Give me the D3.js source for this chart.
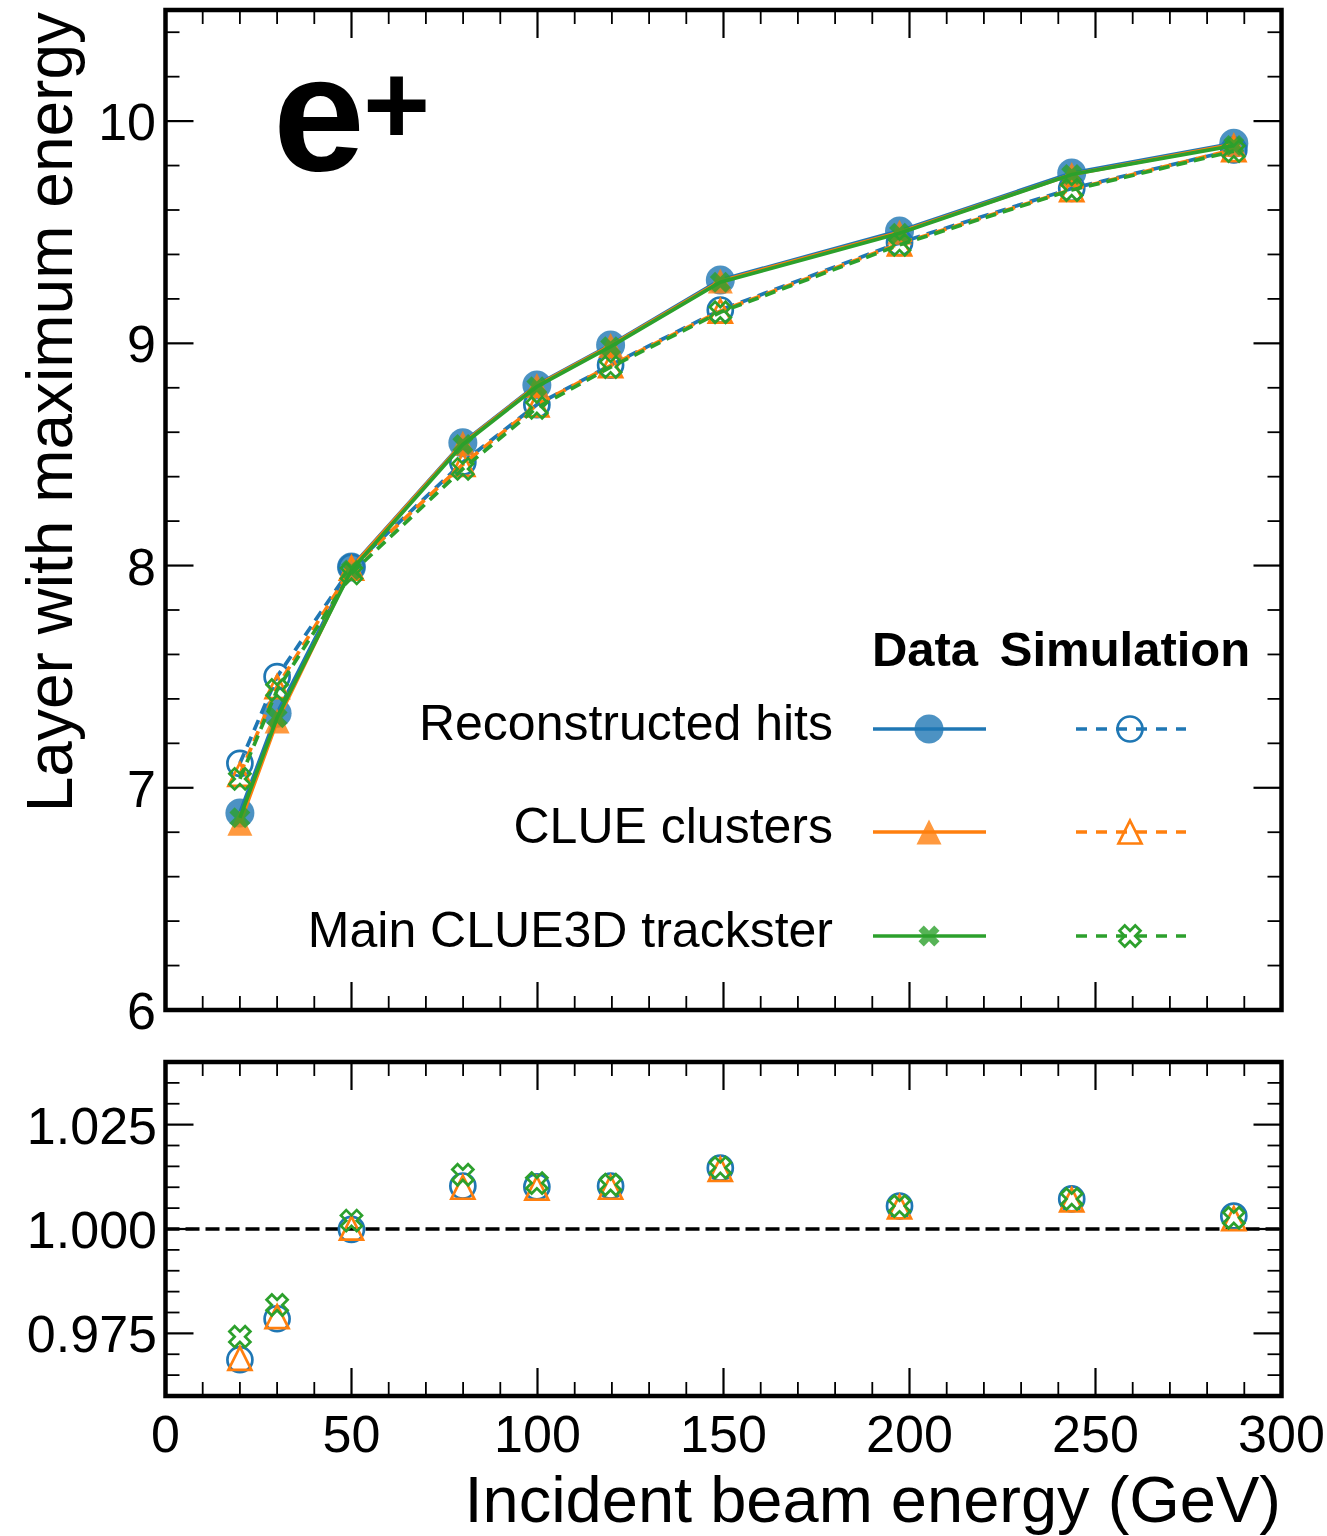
<!DOCTYPE html>
<html><head><meta charset="utf-8">
<script src="https://cdn.jsdelivr.net/npm/d3@7"></script>
<style>
body{margin:0;background:#fff}
svg{display:block}
text{font-family:"Liberation Sans",Arial,Helvetica,sans-serif;fill:#000}
</style>
</head><body>
<svg id="c" width="1327" height="1536"></svg>
<script>
// ---------------- data ----------------
const energies = [20, 30, 49.99, 79.93, 99.83, 119.65, 149.14, 197.32, 243.61, 287.18];

const dataHits      = [6.887, 7.335, 7.993, 8.553, 8.813, 8.993, 9.285, 9.506, 9.766, 9.900];
const dataClue      = [6.840, 7.300, 7.990, 8.550, 8.810, 8.990, 9.280, 9.500, 9.760, 9.895];
const dataTrackster = [6.865, 7.315, 7.980, 8.545, 8.805, 8.985, 9.275, 9.495, 9.760, 9.890];

const simHits       = [7.110, 7.500, 7.993, 8.465, 8.724, 8.902, 9.150, 9.453, 9.697, 9.870];
const simClue       = [7.060, 7.455, 7.988, 8.455, 8.723, 8.900, 9.145, 9.448, 9.692, 9.872];
const simTrackster  = [7.040, 7.440, 7.965, 8.435, 8.710, 8.893, 9.140, 9.443, 9.690, 9.865];

const ratioHits      = [0.9687, 0.9785, 0.9999, 1.0103, 1.0101, 1.0103, 1.0146, 1.0055, 1.0072, 1.0031];
const ratioClue      = [0.9690, 0.9790, 1.0002, 1.0100, 1.0098, 1.0100, 1.0143, 1.0053, 1.0070, 1.0025];
const ratioTrackster = [0.9742, 0.9818, 1.0020, 1.0130, 1.0110, 1.0106, 1.0147, 1.0055, 1.0072, 1.0027];

const seriesNames = ["Reconstructed hits", "CLUE clusters", "Main CLUE3D trackster"];
const seriesColors = ["#1f77b4", "#ff7f0e", "#2ca02c"];
const seriesMarkers = ["circle", "triangle", "x"];

const xTickLabels = [0, 50, 100, 150, 200, 250, 300];
const topYTickLabels = [6, 7, 8, 9, 10];
const ratioTickLabels = [0.975, 1.000, 1.025];

// ---------------- layout ----------------
const svg = d3.select("#c");
const X0 = 165.5, X1 = 1281.5;
const T0 = 10, T1 = 1010;
const B0 = 1062, B1 = 1396;
const LW = 3.7;

const x = d3.scaleLinear([0, 300], [X0, X1]);
const yTop = d3.scaleLinear([6, 10.5], [T1, T0]);
const yBot = d3.scaleLinear([0.96, 1.04], [B1, B0]);

// marker shapes
function markerPath(type, s) {
  const h = s / 2;
  if (type === "circle") {
    const p = d3.path(); p.arc(0, 0, h, 0, 2 * Math.PI); p.closePath(); return p.toString();
  }
  if (type === "triangle") {
    return `M0,${-h}L${h},${h}L${-h},${h}Z`;
  }
  const q = s / 4;
  const v = [[-1,-2],[0,-1],[1,-2],[2,-1],[1,0],[2,1],[1,2],[0,1],[-1,2],[-2,1],[-1,0],[-2,-1]];
  return "M" + v.map(d => `${d[0]*q},${d[1]*q}`).join("L") + "Z";
}
const filledSize = {circle: 29, triangle: 25, x: 21};
const openSize = {circle: 25, triangle: 23, x: 21};

function drawFilled(g, type, color, px, py) {
  g.append("path").attr("d", markerPath(type, filledSize[type]))
    .attr("transform", `translate(${px},${py})`)
    .attr("fill", color).attr("fill-opacity", 0.8).attr("stroke", "none");
}
function drawOpen(g, type, color, px, py) {
  g.append("path").attr("d", markerPath(type, openSize[type]))
    .attr("transform", `translate(${px},${py})`)
    .attr("fill", "none").attr("stroke", color).attr("stroke-width", 2.7)
    .attr("stroke-linejoin", "miter");
}

// ticks
function ticks(g, opts) {
  const {xMajor, xMinor, yMajor, yMinor, ys, y0, y1} = opts;
  const tg = g.append("g").attr("stroke", "#000");
  const maj = 28, mino = 14;
  xMajor.forEach(v => {
    tg.append("line").attr("x1", x(v)).attr("x2", x(v)).attr("y1", y1).attr("y2", y1 - maj).attr("stroke-width", 2.2);
    tg.append("line").attr("x1", x(v)).attr("x2", x(v)).attr("y1", y0).attr("y2", y0 + maj).attr("stroke-width", 2.2);
  });
  xMinor.forEach(v => {
    tg.append("line").attr("x1", x(v)).attr("x2", x(v)).attr("y1", y1).attr("y2", y1 - mino).attr("stroke-width", 1.8);
    tg.append("line").attr("x1", x(v)).attr("x2", x(v)).attr("y1", y0).attr("y2", y0 + mino).attr("stroke-width", 1.8);
  });
  yMajor.forEach(v => {
    tg.append("line").attr("x1", X0).attr("x2", X0 + maj).attr("y1", ys(v)).attr("y2", ys(v)).attr("stroke-width", 2.2);
    tg.append("line").attr("x1", X1).attr("x2", X1 - maj).attr("y1", ys(v)).attr("y2", ys(v)).attr("stroke-width", 2.2);
  });
  yMinor.forEach(v => {
    tg.append("line").attr("x1", X0).attr("x2", X0 + mino).attr("y1", ys(v)).attr("y2", ys(v)).attr("stroke-width", 1.8);
    tg.append("line").attr("x1", X1).attr("x2", X1 - mino).attr("y1", ys(v)).attr("y2", ys(v)).attr("stroke-width", 1.8);
  });
}

const xMinorTicks = x.ticks(30).filter(v => v % 50 !== 0);

// ---------------- top panel ----------------
const gTop = svg.append("g");
ticks(gTop, {
  xMajor: xTickLabels, xMinor: xMinorTicks,
  yMajor: topYTickLabels,
  yMinor: d3.range(0, 23).map(i => 6 + i * 0.2).filter(v => Math.abs(v - Math.round(v)) > 1e-6),
  ys: yTop, y0: T0, y1: T1
});

const dataSeries = [dataHits, dataClue, dataTrackster];
const simSeries = [simHits, simClue, simTrackster];
const line = vals => d3.line().x((d, i) => x(energies[i])).y(d => yTop(d))(vals);

for (let k = 0; k < 3; k++) {
  const c = seriesColors[k], m = seriesMarkers[k];
  const gd = gTop.append("g");
  gd.append("path").attr("d", line(dataSeries[k])).attr("fill", "none")
    .attr("stroke", c).attr("stroke-width", LW);
  dataSeries[k].forEach((v, i) => drawFilled(gd, m, c, x(energies[i]), yTop(v)));
  const gs = gTop.append("g");
  gs.append("path").attr("d", line(simSeries[k])).attr("fill", "none")
    .attr("stroke", c).attr("stroke-width", LW).attr("stroke-dasharray", "11,7");
  simSeries[k].forEach((v, i) => drawOpen(gs, m, c, x(energies[i]), yTop(v)));
}

// y tick labels top
gTop.append("g").selectAll("text").data(topYTickLabels).join("text")
  .attr("x", 156).attr("y", d => yTop(d) + 19).attr("text-anchor", "end")
  .attr("font-size", 52).text(d => d);

// frame
gTop.append("rect").attr("x", X0).attr("y", T0).attr("width", X1 - X0).attr("height", T1 - T0)
  .attr("fill", "none").attr("stroke", "#000").attr("stroke-width", 4.5);

// y axis label
svg.append("text").attr("transform", "translate(72,12) rotate(-90)")
  .attr("text-anchor", "end").attr("font-size", 64).text("Layer with maximum energy");

// e+ label
const eLab = svg.append("text").attr("font-weight", "bold");
eLab.append("tspan").attr("x", 273).attr("y", 170).attr("font-size", 165).text("e");
eLab.append("tspan").attr("x", 363).attr("y", 144).attr("font-size", 115).text("+");

// legend
const legend = svg.append("g");
legend.append("text").attr("x", 925).attr("y", 666).attr("text-anchor", "middle")
  .attr("font-size", 49).attr("font-weight", "bold").text("Data");
legend.append("text").attr("x", 1125).attr("y", 666).attr("text-anchor", "middle")
  .attr("font-size", 49).attr("font-weight", "bold").text("Simulation");
const legendRows = [729, 832, 936];
seriesNames.forEach((name, k) => {
  const ly = legendRows[k], c = seriesColors[k], m = seriesMarkers[k];
  legend.append("text").attr("x", 833).attr("y", ly + 11).attr("text-anchor", "end")
    .attr("font-size", 50).text(name);
  legend.append("line").attr("x1", 873).attr("x2", 986).attr("y1", ly).attr("y2", ly)
    .attr("stroke", c).attr("stroke-width", LW);
  drawFilled(legend, m, c, 929, ly);
  legend.append("line").attr("x1", 1076).attr("x2", 1186).attr("y1", ly).attr("y2", ly)
    .attr("stroke", c).attr("stroke-width", LW).attr("stroke-dasharray", "11,9");
  drawOpen(legend, m, c, 1130, ly);
});

// ---------------- ratio panel ----------------
const gBot = svg.append("g");
ticks(gBot, {
  xMajor: xTickLabels, xMinor: xMinorTicks,
  yMajor: ratioTickLabels,
  yMinor: d3.range(0, 17).map(i => 0.96 + i * 0.005).filter(v => Math.abs(v * 40 - Math.round(v * 40)) > 1e-6),
  ys: yBot, y0: B0, y1: B1
});

gBot.append("line").attr("x1", X0).attr("x2", X1).attr("y1", yBot(1)).attr("y2", yBot(1))
  .attr("stroke", "#000").attr("stroke-width", 3.7).attr("stroke-dasharray", "14,6");

const ratioSeries = [ratioHits, ratioClue, ratioTrackster];
ratioSeries.forEach((vals, k) => {
  const g = gBot.append("g");
  vals.forEach((v, i) => drawOpen(g, seriesMarkers[k], seriesColors[k], x(energies[i]), yBot(v)));
});

gBot.append("g").selectAll("text").data(ratioTickLabels).join("text")
  .attr("x", 157).attr("y", d => yBot(d) + 19).attr("text-anchor", "end")
  .attr("font-size", 52).text(d => d3.format(".3f")(d));

gBot.append("g").selectAll("text").data(xTickLabels).join("text")
  .attr("x", d => x(d)).attr("y", 1452).attr("text-anchor", "middle")
  .attr("font-size", 52).text(d => d);

gBot.append("rect").attr("x", X0).attr("y", B0).attr("width", X1 - X0).attr("height", B1 - B0)
  .attr("fill", "none").attr("stroke", "#000").attr("stroke-width", 4.5);

svg.append("text").attr("x", 1281).attr("y", 1522).attr("text-anchor", "end")
  .attr("font-size", 65).text("Incident beam energy (GeV)");
</script>
</body></html>
